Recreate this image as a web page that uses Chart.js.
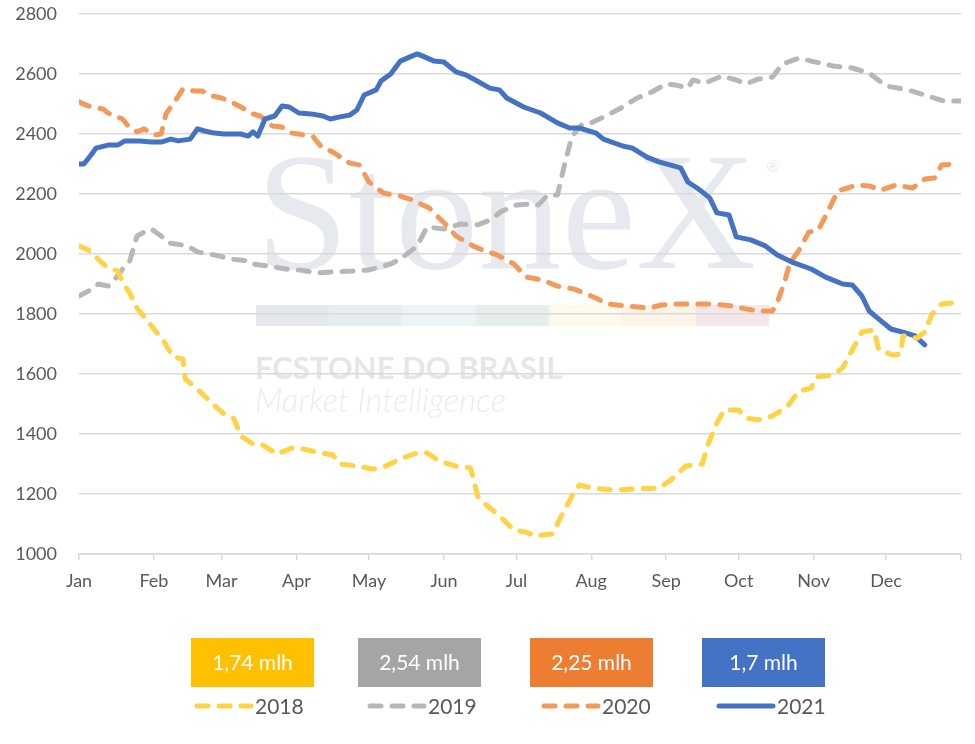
<!DOCTYPE html>
<html>
<head>
<meta charset="utf-8">
<script src="https://cdn.jsdelivr.net/npm/chart.js@4.4.0/dist/chart.umd.min.js"></script>
<style>
html, body { margin: 0; padding: 0; background: #fff; }
#wrap { width: 975px; height: 744px; position: relative; }
</style>
</head>
<body>
<div id="wrap"><canvas id="grab"></canvas></div>
<script>
// month labels sit on the first day of each month (day of year)
const months = ["Jan", "Feb", "Mar", "Apr", "May", "Jun", "Jul", "Aug", "Sep", "Oct", "Nov", "Dec"];
const monthDays = [0, 31, 59, 90, 120, 151, 181, 212, 243, 273, 304, 334, 365];
const yTicks = [1000, 1200, 1400, 1600, 1800, 2000, 2200, 2400, 2600, 2800];

const years = ["2018", "2019", "2020", "2021"];
const boxLabels = ["1,74 mlh", "2,54 mlh", "2,25 mlh", "1,7 mlh"];

const days2018 = [0,4,11,16,18,21,24,29,31,35,39,43,44,49,55,60,64,67,72,76,82,88,91,100,105,108,115,122,127,133,140,144,149,156,162,165,168,174,180,185,189,196,200,204,207,212,221,230,240,245,251,258,260,264,267,273,276,281,287,293,298,303,305,312,316,320,324,329,331,337,340,341,347,350,353,357,361];
const vals2018 = [2027,2013,1960,1943,1907,1870,1820,1770,1750,1710,1657,1650,1583,1550,1503,1467,1453,1393,1367,1363,1333,1353,1353,1337,1330,1300,1293,1283,1293,1317,1337,1337,1310,1293,1287,1193,1167,1127,1080,1073,1060,1067,1133,1193,1230,1220,1213,1217,1220,1247,1293,1300,1360,1437,1480,1480,1453,1447,1460,1490,1543,1553,1590,1597,1620,1680,1740,1747,1680,1663,1667,1727,1720,1740,1800,1833,1837];

const days2019 = [0,4,8,12,15,19,21,24,28,30,34,37,45,49,56,63,70,72,78,88,91,99,105,113,120,129,133,140,144,151,158,165,170,175,181,187,190,194,198,201,204,208,212,218,225,231,237,243,247,252,254,259,266,272,276,281,287,291,298,303,312,320,327,334,343,351,358,365];
const vals2019 = [1860,1877,1900,1893,1917,1960,1977,2060,2077,2083,2060,2037,2027,2007,1997,1983,1977,1967,1960,1947,1947,1937,1940,1943,1947,1967,1983,2027,2090,2083,2100,2097,2113,2143,2163,2167,2163,2197,2197,2300,2393,2430,2437,2460,2490,2520,2540,2567,2563,2553,2580,2570,2593,2580,2567,2583,2590,2633,2653,2643,2627,2620,2603,2560,2547,2527,2510,2510];

const days2020 = [0,4,10,12,18,20,24,27,31,34,36,40,43,48,51,55,59,63,67,72,75,80,84,88,91,97,100,105,112,116,120,126,133,138,145,149,152,156,163,167,173,180,185,192,198,205,212,219,226,236,241,247,254,262,270,276,281,287,289,292,294,298,302,306,310,314,318,322,327,332,338,345,350,354,357,364];
const vals2020 = [2507,2493,2483,2470,2450,2430,2407,2417,2397,2400,2467,2513,2550,2543,2543,2527,2520,2507,2490,2467,2460,2427,2423,2403,2400,2390,2360,2340,2303,2297,2240,2203,2193,2180,2153,2120,2097,2060,2027,2013,1997,1967,1923,1913,1893,1883,1860,1833,1827,1820,1830,1833,1833,1833,1827,1817,1810,1810,1840,1907,1967,2013,2073,2080,2143,2210,2220,2230,2227,2213,2230,2220,2250,2253,2297,2300];

const days2021 = [0,2,5,7,12,16,19,25,30,34,38,41,46,49,52,56,60,67,70,72,74,77,81,84,87,91,96,101,104,108,112,115,118,123,125,129,133,137,140,143,147,151,156,160,164,170,174,177,184,191,198,203,207,214,217,225,229,235,240,249,252,257,261,264,269,272,278,284,289,295,303,309,316,320,324,327,331,336,342,346,350];
const vals2021 = [2300,2300,2330,2353,2363,2363,2377,2377,2373,2373,2383,2377,2383,2417,2410,2403,2400,2400,2393,2407,2393,2450,2460,2493,2490,2470,2467,2460,2450,2457,2463,2480,2530,2547,2577,2600,2643,2657,2667,2657,2643,2640,2607,2597,2580,2553,2547,2520,2490,2470,2437,2420,2420,2403,2383,2360,2353,2323,2307,2287,2240,2213,2187,2137,2130,2057,2047,2027,1997,1973,1950,1923,1900,1897,1860,1810,1783,1750,1737,1727,1697];

const lineColors = ["#FFD343", "#B7B7B7", "#F39A5A", "#4472C4"];
const boxColors = ["#FFC000", "#A5A5A5", "#ED7D31", "#4472C4"];

const pts = (d, v) => d.map((x, i) => ({ x: x, y: v[i] }));

// fit a text to a given width by scaling its font size
const fitFont = (ctx, text, family, weight, width) => {
    ctx.font = weight + " 100px " + family;
    const w = ctx.measureText(text).width;
    return weight + " " + (100 * width / w).toFixed(1) + "px " + family;
};

const watermark = {
    id: "watermark",
    beforeDraw(chart) {
        const ctx = chart.ctx;
        ctx.save();
        ctx.textBaseline = "alphabetic";
        ctx.textAlign = "left";
        ctx.fillStyle = "#E6EAEE";
        ctx.font = fitFont(ctx, "StoneX", '"Liberation Serif"', "normal", 500);
        ctx.fillText("StoneX", 256, 268);
        ctx.font = '16px "Liberation Sans"';
        ctx.fillText("\u00AE", 767, 172);

        const segs = ["#E4E8EC", "#E8EDF2", "#EEF3F8", "#E7EEEC", "#FDF9EB", "#FDF4E8", "#F6E8E9"];
        segs.forEach((c, i) => {
            ctx.fillStyle = c;
            ctx.fillRect(256 + i * 73.3, 305, 73.3, 21);
        });

        ctx.fillStyle = "#E3E7EB";
        ctx.font = fitFont(ctx, "FCSTONE DO BRASIL", "Lato", "bold", 307);
        ctx.fillText("FCSTONE DO BRASIL", 255, 379);
        ctx.fillStyle = "#E9EDF1";
        ctx.font = fitFont(ctx, "Market Intelligence", "Lato", "italic 300", 251);
        ctx.fillText("Market Intelligence", 255, 412);
        ctx.restore();
    }
};

const legendBoxes = {
    id: "legendBoxes",
    afterDraw(chart) {
        const ctx = chart.ctx;
        const boxX = [191, 358, 530, 702];
        const sampleX = [195, 368, 542, 717];
        ctx.save();
        chart.data.datasets.forEach((ds, i) => {
            ctx.fillStyle = boxColors[i];
            ctx.fillRect(boxX[i], 638, 123, 49);
            ctx.fillStyle = "#FFFFFF";
            ctx.font = '21px Lato';
            ctx.textAlign = "center";
            ctx.textBaseline = "middle";
            ctx.fillText(boxLabels[i], boxX[i] + 61.5, 663);

            ctx.strokeStyle = ds.borderColor;
            ctx.lineWidth = ds.borderWidth;
            ctx.lineCap = "round";
            ctx.setLineDash(ds.borderDash || []);
            ctx.beginPath();
            ctx.moveTo(sampleX[i] + 2, 706);
            ctx.lineTo(sampleX[i] + 56, 706);
            ctx.stroke();
            ctx.setLineDash([]);

            ctx.fillStyle = "#595959";
            ctx.font = '21px Lato';
            ctx.textAlign = "left";
            ctx.fillText(years[i], sampleX[i] + 60, 707);
        });
        ctx.restore();
    }
};

const mkSet = (i, d, v, dash, order) => ({
    label: years[i],
    data: pts(d, v),
    borderColor: lineColors[i],
    borderWidth: 5,
    borderDash: dash,
    borderCapStyle: "round",
    borderJoinStyle: "round",
    pointRadius: 0,
    tension: 0,
    fill: false,
    order: order
});

const grph = document.querySelector("#grab");

const man = new Chart(grph, {
    type: "line",
    data: {
        datasets: [
            mkSet(0, days2018, vals2018, [11, 11], 0),
            mkSet(1, days2019, vals2019, [11, 11], 3),
            mkSet(2, days2020, vals2020, [11, 11], 2),
            mkSet(3, days2021, vals2021, [], 1)
        ]
    },
    options: {
        responsive: true,
        maintainAspectRatio: false,
        animation: false,
        layout: { padding: { top: 14, right: 14, left: 0, bottom: 0 } },
        plugins: {
            legend: { display: false },
            tooltip: { enabled: false }
        },
        scales: {
            x: {
                type: "linear",
                min: 0,
                max: 365,
                afterBuildTicks: (s) => { s.ticks = monthDays.map(v => ({ value: v })); },
                afterFit: (s) => { s.height = 190; s.paddingLeft = 0; s.paddingRight = 0; },
                ticks: {
                    autoSkip: false,
                    maxRotation: 0,
                    padding: 10,
                    color: "#595959",
                    font: { family: "Lato", size: 18 },
                    callback: (v, i) => months[i] || ""
                },
                grid: {
                    drawOnChartArea: false,
                    drawTicks: true,
                    tickLength: 6,
                    color: "#D9D9D9",
                    lineWidth: 1.5
                },
                border: { color: "#D9D9D9", width: 1.5 }
            },
            y: {
                min: 1000,
                max: 2800,
                afterBuildTicks: (s) => { s.ticks = yTicks.map(v => ({ value: v })); },
                afterFit: (s) => { s.width = 79; s.paddingTop = 0; s.paddingBottom = 0; },
                ticks: {
                    padding: 22,
                    color: "#595959",
                    font: { family: "Lato", size: 18 },
                    callback: (v) => String(v)
                },
                grid: {
                    drawTicks: false,
                    color: "#D9D9D9",
                    lineWidth: 1.5
                },
                border: { display: false }
            }
        }
    },
    plugins: [watermark, legendBoxes]
});
</script>
</body>
</html>
